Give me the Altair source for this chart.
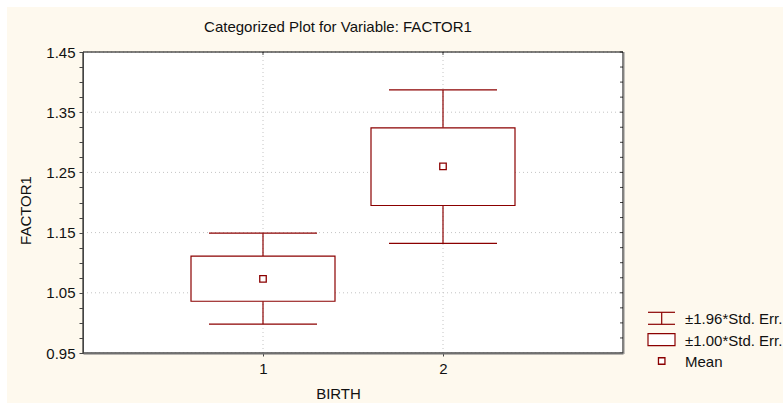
import altair as alt
import pandas as pd

# ---- data ----
groups = [1, 2]
means = [1.073, 1.260]
se1_low = [1.036, 1.195]
se1_high = [1.111, 1.324]
se196_low = [0.998, 1.132]
se196_high = [1.149, 1.387]

y_major = [0.95, 1.05, 1.15, 1.25, 1.35, 1.45]
y_minor = [0.95, 0.975, 1.0, 1.025, 1.05, 1.075, 1.1, 1.125, 1.15, 1.175, 1.2,
           1.225, 1.25, 1.275, 1.3, 1.325, 1.35, 1.375, 1.4, 1.425, 1.45]
x_ticks = [1, 2]
legend_labels = ["±1.96*Std. Err.", "±1.00*Std. Err.", "Mean"]

title_text = "Categorized Plot for Variable: FACTOR1"
x_title = "BIRTH"
y_title = "FACTOR1"

# ---- style ----
DR = "#8B0000"
CREAM = "#FEF9EE"
FONT = "Liberation Sans"
W, H = 540, 301

df = pd.DataFrame({
    "group": groups, "mean": means,
    "lo1": se1_low, "hi1": se1_high,
    "lo196": se196_low, "hi196": se196_high,
})
grid_y = pd.DataFrame({"v": y_major})
grid_x = pd.DataFrame({"v": x_ticks})
minor_df = pd.DataFrame({"v": y_minor})

xs = alt.Scale(domain=[0, 3], nice=False, zero=False)
ys = alt.Scale(domain=[0.95, 1.45], nice=False, zero=False)

AX = alt.Axis(values=x_ticks, format="d", grid=False, labelFontSize=15, labelFont=FONT,
              labelColor="#111", tickSize=3, tickColor="#444", domainColor="#707070",
              domainWidth=2, labelPadding=5, labelAngle=0,
              title=x_title, titleFont=FONT, titleFontSize=15, titleFontWeight="normal",
              titleColor="#111", titleX=255, titleY=40, titleBaseline="middle",
              titleAlign="center", zindex=1)
AY = alt.Axis(values=y_minor, grid=False, labelFontSize=15, labelFont=FONT,
              labelColor="#111", tickSize=4, tickColor="#444", domainColor="#444",
              domainWidth=1, labelPadding=4,
              labelExpr="(round(datum.value*1000) - 950) % 100 == 0 ? format(datum.value, '.2f') : ''",
              title=y_title, titleFont=FONT, titleFontSize=15, titleFontWeight="normal",
              titleColor="#111", titleX=-58, titleY=158, titleBaseline="middle",
              titleAlign="center", titleAngle=-90, zindex=1)


def X(f):
    return alt.X(f, scale=xs, axis=AX, title=x_title)


def Y(f):
    return alt.Y(f, scale=ys, axis=AY, title=y_title)


one_row = pd.DataFrame({"a": [0]})

# background decorations
cream = alt.Chart(one_row).mark_rect(fill=CREAM, strokeWidth=0).encode(
    x=alt.value(-76), x2=alt.value(700), y=alt.value(-45), y2=alt.value(351))
plotbg = alt.Chart(one_row).mark_rect(fill="white", strokeWidth=0).encode(
    x=alt.value(0), x2=alt.value(W), y=alt.value(0), y2=alt.value(H))

gy = alt.Chart(grid_y).mark_rule(color="#c4c4c4", strokeDash=[1, 3], strokeWidth=1).encode(
    y=Y("v:Q"), x=alt.value(0), x2=alt.value(W))
gx = alt.Chart(grid_x).mark_rule(color="#c4c4c4", strokeDash=[1, 3], strokeWidth=1).encode(
    x=X("v:Q"), y=alt.value(0), y2=alt.value(H))

right_ticks = alt.Chart(minor_df).mark_rule(color="#444", strokeWidth=1).encode(
    y=Y("v:Q"), x=alt.value(W - 3), x2=alt.value(W))
top_ticks = alt.Chart(grid_x).mark_rule(color="#444", strokeWidth=1).encode(
    x=X("v:Q"), y=alt.value(0), y2=alt.value(3))

base = alt.Chart(df).transform_calculate(
    bx1="datum.group - 0.4", bx2="datum.group + 0.4",
    cx1="datum.group - 0.3", cx2="datum.group + 0.3")

whisk_up = base.mark_rule(color=DR, strokeWidth=1.2).encode(
    x=X("group:Q"), y=Y("hi1:Q"), y2="hi196:Q")
whisk_dn = base.mark_rule(color=DR, strokeWidth=1.2).encode(
    x=X("group:Q"), y=Y("lo196:Q"), y2="lo1:Q")
cap_hi = base.mark_rule(color=DR, strokeWidth=1.2).encode(
    x=X("cx1:Q"), x2="cx2:Q", y=Y("hi196:Q"))
cap_lo = base.mark_rule(color=DR, strokeWidth=1.2).encode(
    x=X("cx1:Q"), x2="cx2:Q", y=Y("lo196:Q"))
boxes = base.mark_rect(fill="white", stroke=DR, strokeWidth=1.2).encode(
    x=X("bx1:Q"), x2="bx2:Q", y=Y("lo1:Q"), y2="hi1:Q")
pts = base.mark_point(shape="square", size=42, filled=False, stroke=DR, strokeWidth=1.3,
                      fill="white", opacity=1).encode(
    x=X("group:Q"), y=Y("mean:Q"))

frame = alt.Chart(one_row).mark_rect(fill=None, stroke="black", strokeWidth=1).encode(
    x=alt.value(0), x2=alt.value(W), y=alt.value(0), y2=alt.value(H))
frame_right = alt.Chart(one_row).mark_rule(color="#8a8a8a", strokeWidth=1).encode(
    x=alt.value(W + 1), y=alt.value(0), y2=alt.value(H + 1))


# ---- legend (drawn by hand, outside the plot area) ----
def one(lab):
    return alt.Chart(pd.DataFrame({"label": [lab]}))


LX0, LX1, LXC, LTX = 565, 592, 578.7, 602
leg1 = [
    one(legend_labels[0]).mark_rule(color=DR, strokeWidth=1.2).encode(
        x=alt.value(LX0), x2=alt.value(LX1), y=alt.value(260.3)),
    one(legend_labels[0]).mark_rule(color=DR, strokeWidth=1.2).encode(
        x=alt.value(LX0), x2=alt.value(LX1), y=alt.value(272.3)),
    one(legend_labels[0]).mark_rule(color=DR, strokeWidth=1.2).encode(
        x=alt.value(LXC), y=alt.value(260.3), y2=alt.value(272.3)),
]
leg2 = [one(legend_labels[1]).mark_rect(fill="white", stroke=DR, strokeWidth=1.2).encode(
    x=alt.value(LX0), x2=alt.value(LX1), y=alt.value(281.7), y2=alt.value(293.7))]
leg3 = [one(legend_labels[2]).mark_point(shape="square", size=42, filled=False, stroke=DR,
                                         strokeWidth=1.3, fill="white", opacity=1).encode(
    x=alt.value(LXC), y=alt.value(309))]
leg_text = [
    one(lab).mark_text(align="left", baseline="middle", font=FONT, fontSize=15, color="#111").encode(
        text="label:N", x=alt.value(LTX), y=alt.value(yy))
    for lab, yy in zip(legend_labels, [267.3, 288.7, 310])
]

# chart title as a text mark (so it is placed relative to the plot, not to the cream panel)
title_mark = one(title_text).mark_text(align="center", baseline="middle", font=FONT, fontSize=15,
                                       color="#111").encode(
    text="label:N", x=alt.value(255), y=alt.value(-25))

layers = [cream, plotbg, gy, gx, right_ticks, top_ticks, whisk_up, whisk_dn, cap_hi, cap_lo,
          boxes, pts, frame, frame_right] + leg1 + leg2 + leg3 + leg_text + [title_mark]

chart = alt.layer(*layers).properties(
    width=W, height=H,
    autosize=alt.AutoSizeParams(type="none"),
    padding={"left": 83, "top": 52, "right": 160, "bottom": 50},
    background="white",
).configure_view(stroke=None, fill="white")

chart.save("out.html", embed_options={"renderer": "svg", "actions": False})
